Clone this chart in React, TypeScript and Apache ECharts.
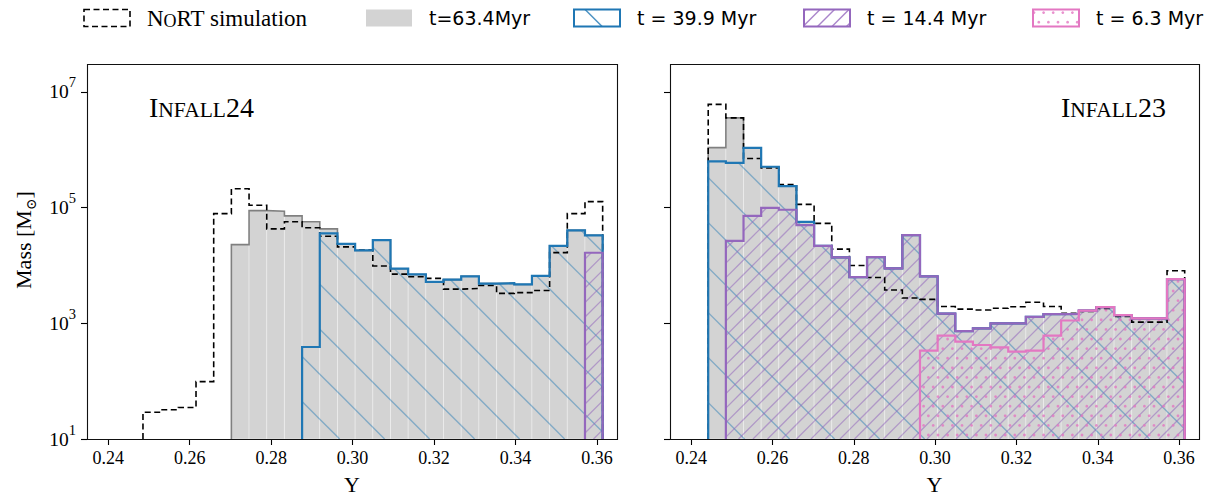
import React, { useEffect, useRef } from "react";
import * as echarts from "echarts";

// ---------------- data ----------------
const BIN_EDGE0 = 0.2442; // first bin edge in helium mass fraction Y
const BIN_WIDTH = 0.00434;
const X_MIN = 0.2348;
const X_MAX = 0.3649;
const X_TICKS = [0.24, 0.26, 0.28, 0.3, 0.32, 0.34, 0.36];
const Y_EXP_MIN = 1; // 10^1
const Y_EXP_MAX = 7.484;
const Y_TICK_EXPONENTS = [1, 3, 5, 7];

// INFALL24 (left panel) — masses in Msun, first bin index in the shared bin grid
const L_NORT_START = 1;
const L_NORT = [29, 32, 35, 98, 7.9e4, 2.12e5, 1.1e5, 4.3e4, 5.7e4, 4.5e4, 3.2e4, 2.1e4, 1.85e4, 9.8e3, 7.1e3, 6.4e3, 6.0e3, 3.9e3, 4.0e3, 4.5e3, 3.3e3, 3.4e3, 3.7e3, 1.67e4, 7.9e4, 1.27e5];
const L_T634_START = 6;
const L_T634 = [2.3e4, 8.9e4, 8.7e4, 7.2e4, 5.7e4, 4.3e4, 2.37e4, 1.82e4, 2.75e4, 8.8e3, 7.0e3, 5.2e3, 5.7e3, 6.5e3, 4.85e3, 4.95e3, 4.7e3, 6.6e3, 2.18e4, 4.05e4, 3.33e4];
const L_T399_START = 10;
const L_T399 = [390, 3.6e4, 2.37e4, 1.82e4, 2.75e4, 8.8e3, 7.0e3, 5.2e3, 5.7e3, 6.5e3, 4.85e3, 4.95e3, 4.7e3, 6.6e3, 2.18e4, 4.05e4, 3.33e4];
const L_T144_START = 26;
const L_T144 = [1.66e4];

// INFALL23 (right panel)
const R_NORT_START = 0;
const R_NORT = [6.1e6, 3.57e6, 7.1e5, 4.86e5, 2.52e5, 1.14e5, 5.35e4, 1.92e4, 1.0e4, 6.2e3, 3.77e3, 2.74e3, 2.6e3, 1.95e3, 1.76e3, 1.7e3, 1.82e3, 1.94e3, 2.32e3, 1.96e3, 1.49e3, 1.6e3, 1.8e3, 1.32e3, 1.05e3, 1.05e3, 8.1e3];
const R_T634_START = 0;
const R_T634 = [1.09e6, 3.57e6, 1.08e6, 5.1e5, 2.36e5, 5.7e4, 2.18e4, 1.38e4, 6.3e3, 1.4e4, 8.9e3, 3.36e4, 6.5e3, 1.47e3, 731, 817, 998, 998, 1.29e3, 1.44e3, 1.46e3, 1.66e3, 1.91e3, 1.39e3, 1.22e3, 1.22e3, 5.8e3];
const R_T399_START = 0;
const R_T399 = [6.3e5, 5.93e5, 1.08e6, 5.1e5, 2.36e5, 5.7e4, 2.18e4, 1.38e4, 6.3e3, 1.4e4, 8.9e3, 3.36e4, 6.5e3, 1.47e3, 731, 817, 998, 998, 1.29e3, 1.44e3, 1.46e3, 1.66e3, 1.91e3, 1.39e3, 1.22e3, 1.22e3, 5.8e3];
const R_T144_START = 1;
const R_T144 = [2.66e4, 7.2e4, 9.95e4, 9.2e4, 5.0e4, 2.18e4, 1.38e4, 6.3e3, 1.4e4, 8.9e3, 3.36e4, 6.5e3, 1.47e3, 731, 817, 998, 998, 1.29e3, 1.44e3, 1.46e3, 1.66e3, 1.91e3, 1.39e3, 1.22e3, 1.22e3, 5.8e3];
const R_T63_START = 12;
const R_T63 = [337, 611, 481, 422, 384, 324, 337, 611, 1.12e3, 1.66e3, 1.91e3, 1.39e3, 1.22e3, 1.22e3, 5.8e3];

const PANEL_LABELS = ["INFALL24", "INFALL23"];
const LEGEND_LABELS = ["NoRT simulation", "t=63.4Myr", "t = 39.9 Myr", "t = 14.4 Myr", "t = 6.3 Myr"];
const X_TITLE = "Y";

// ---------------- style ----------------
const SERIF = '"Liberation Serif", "DejaVu Serif", serif';
const SANS = '"DejaVu Sans", sans-serif';
const C_BLUE = "#1f77b4";
const C_PURPLE = "#9467bd";
const C_PINK = "#e377c2";
const C_GRAY_FILL = "#d3d3d3";
const C_GRAY_LINE = "#808080";
const BLUE_HATCH = { dir: "back", spacing: 45, phase: -99.4, color: "rgba(31,119,180,0.45)", lw: 1.4 };
const PURPLE_HATCH = { dir: "fwd", spacing: 14.5, phase: 3, color: "rgba(148,103,189,0.55)", lw: 1.3 };
const PINK_DOTS = { sx: 9.6, sy: 9.6, px: 2, py: 3, r: 1.4, color: "rgba(227,119,194,0.8)" };

const GRIDS = [
  { left: 87, top: 64, width: 530, height: 375 },
  { left: 670, top: 64, width: 529, height: 375 },
];

// ---------------- helpers ----------------
const edge = (k: number) => BIN_EDGE0 + k * BIN_WIDTH;
const binData = (start: number, vals: number[]) =>
  vals.map((v, i) => [edge(start + i), edge(start + i + 1), Math.log10(v)]);
const stairData = (start: number, vals: number[]) => {
  const pts: number[][] = [[edge(start), Y_EXP_MIN]];
  vals.forEach((v, i) => {
    const y = Math.log10(v);
    pts.push([edge(start + i), y], [edge(start + i + 1), y]);
  });
  pts.push([edge(start + vals.length), Y_EXP_MIN]);
  return pts;
};

type R = { x: number; y: number; w: number; h: number };

function hatchSegments(r: R, h: any) {
  const segs: number[][] = [];
  if (h.dir === "back") {
    // lines x - y = c
    const cMin = r.x - (r.y + r.h);
    const cMax = r.x + r.w - r.y;
    const n0 = Math.ceil((cMin - h.phase) / h.spacing);
    for (let c = h.phase + n0 * h.spacing; c <= cMax; c += h.spacing) {
      const xa = Math.max(r.x, r.y + c);
      const xb = Math.min(r.x + r.w, r.y + r.h + c);
      if (xb > xa) segs.push([xa, xa - c, xb, xb - c]);
    }
  } else {
    // lines x + y = c
    const cMin = r.x + r.y;
    const cMax = r.x + r.w + r.y + r.h;
    const n0 = Math.ceil((cMin - h.phase) / h.spacing);
    for (let c = h.phase + n0 * h.spacing; c <= cMax; c += h.spacing) {
      const xa = Math.max(r.x, c - r.y - r.h);
      const xb = Math.min(r.x + r.w, c - r.y);
      if (xb > xa) segs.push([xa, c - xa, xb, c - xb]);
    }
  }
  return segs;
}

function dotCenters(r: R, d: any) {
  const pts: number[][] = [];
  const j0 = Math.ceil((r.y - d.py) / d.sy);
  for (let j = j0; d.py + j * d.sy <= r.y + r.h; j++) {
    const cy = d.py + j * d.sy;
    const off = (((j % 2) + 2) % 2) * d.sx / 2;
    const i0 = Math.ceil((r.x - d.px - off) / d.sx);
    for (let i = i0; d.px + off + i * d.sx <= r.x + r.w; i++) {
      pts.push([d.px + off + i * d.sx, cy]);
    }
  }
  return pts;
}

function rectOf(api: any): R {
  const a = api.coord([api.value(0), api.value(2)]);
  const b = api.coord([api.value(1), Y_EXP_MIN]);
  return { x: a[0], y: a[1], w: b[0] - a[0], h: b[1] - a[1] };
}

const hatchChildren = (r: R, h: any) =>
  hatchSegments(r, h).map((s) => ({
    type: "line",
    shape: { x1: s[0], y1: s[1], x2: s[2], y2: s[3] },
    style: { stroke: h.color, lineWidth: h.lw },
  }));

const dotChildren = (r: R, d: any) =>
  dotCenters(r, d).map((p) => ({
    type: "circle",
    shape: { cx: p[0], cy: p[1], r: d.r },
    style: { fill: d.color },
  }));

function customSeries(gi: number, data: number[][], kind: string, z: number) {
  return {
    type: "custom",
    xAxisIndex: gi,
    yAxisIndex: gi,
    data,
    encode: { x: [0, 1], y: 2 },
    z,
    silent: true,
    clip: true,
    renderItem: (params: any, api: any) => {
      const r = rectOf(api);
      if (kind === "fill") {
        return {
          type: "rect",
          shape: { x: r.x, y: r.y, width: r.w, height: r.h },
          style: { fill: C_GRAY_FILL, stroke: "rgba(255,255,255,0.4)", lineWidth: 0.8 },
        };
      }
      if (kind === "blue") return { type: "group", children: hatchChildren(r, BLUE_HATCH) };
      if (kind === "purple") return { type: "group", children: hatchChildren(r, PURPLE_HATCH) };
      return { type: "group", children: dotChildren(r, PINK_DOTS) };
    },
  };
}

function lineSeries(gi: number, data: number[][], color: string, width: number, z: number, dash?: any) {
  return {
    type: "line",
    xAxisIndex: gi,
    yAxisIndex: gi,
    data,
    z,
    silent: true,
    symbol: "none",
    showSymbol: false,
    clip: true,
    lineStyle: { color, width, type: dash || "solid", cap: "butt", join: "miter" },
  };
}

function panelSeries(gi: number, p: any) {
  const s: any[] = [];
  s.push(customSeries(gi, binData(p.t634s, p.t634), "fill", 1));
  s.push(lineSeries(gi, stairData(p.t634s, p.t634), C_GRAY_LINE, 1.6, 2));
  s.push(customSeries(gi, binData(p.t399s, p.t399), "blue", 3));
  s.push(customSeries(gi, binData(p.t144s, p.t144), "purple", 4));
  if (p.t63) s.push(customSeries(gi, binData(p.t63s, p.t63), "pink", 5));
  s.push(lineSeries(gi, stairData(p.norts, p.nort), "#000", 1.6, 6, [6, 3.5]));
  s.push(lineSeries(gi, stairData(p.t399s, p.t399), C_BLUE, 2.2, 7));
  s.push(lineSeries(gi, stairData(p.t144s, p.t144), C_PURPLE, 2.2, 8));
  if (p.t63) s.push(lineSeries(gi, stairData(p.t63s, p.t63), C_PINK, 2.2, 9));
  return s;
}

function legendGraphics() {
  const xs = [84, 366, 574, 804, 1033];
  const y = 9.5, w = 46, h = 17;
  const els: any[] = [];
  // NoRT
  els.push({ type: "rect", shape: { x: xs[0], y, width: w, height: h }, style: { fill: "none", stroke: "#000", lineWidth: 1.6, lineDash: [6, 3.5] } });
  // gray
  els.push({ type: "rect", shape: { x: xs[1], y, width: w, height: h }, style: { fill: C_GRAY_FILL } });
  // blue
  const rb = { x: xs[2], y, w, h };
  hatchSegments(rb, BLUE_HATCH).forEach((s) => els.push({ type: "line", shape: { x1: s[0], y1: s[1], x2: s[2], y2: s[3] }, style: { stroke: "rgba(31,119,180,0.8)", lineWidth: 1.5 } }));
  els.push({ type: "rect", shape: { x: xs[2], y, width: w, height: h }, style: { fill: "none", stroke: C_BLUE, lineWidth: 2 } });
  // purple
  const rp = { x: xs[3], y, w, h };
  hatchSegments(rp, PURPLE_HATCH).forEach((s) => els.push({ type: "line", shape: { x1: s[0], y1: s[1], x2: s[2], y2: s[3] }, style: { stroke: "rgba(148,103,189,0.8)", lineWidth: 1.4 } }));
  els.push({ type: "rect", shape: { x: xs[3], y, width: w, height: h }, style: { fill: "none", stroke: C_PURPLE, lineWidth: 2 } });
  // pink
  const rk = { x: xs[4], y, w, h };
  dotCenters(rk, PINK_DOTS).forEach((p) => els.push({ type: "circle", shape: { cx: p[0], cy: p[1], r: PINK_DOTS.r }, style: { fill: PINK_DOTS.color } }));
  els.push({ type: "rect", shape: { x: xs[4], y, width: w, height: h }, style: { fill: "none", stroke: C_PINK, lineWidth: 2 } });

  // texts
  const ty = y + h / 2;
  els.push({
    type: "text", x: xs[0] + 63, y: ty,
    style: {
      text: "{a|N}{b|O}{a|RT simulation}",
      rich: { a: { fontFamily: SERIF, fontSize: 23, fill: "#000" }, b: { fontFamily: SERIF, fontSize: 18, fill: "#000", verticalAlign: "bottom" } },
      align: "left", verticalAlign: "middle",
    },
  });
  for (let i = 1; i < 5; i++) {
    els.push({ type: "text", x: xs[i] + 63, y: ty, style: { text: LEGEND_LABELS[i], fontFamily: SANS, fontSize: 19, fill: "#000", align: "left", verticalAlign: "middle" } });
  }
  return els;
}

function smallCaps(label: string) {
  // "INFALL24" -> big I, small NFALL, big digits
  const m = label.match(/^([A-Z])([A-Z]+)(\d+)$/);
  if (!m) return label;
  return `{a|${m[1]}}{b|${m[2]}}{a|${m[3]}}`;
}

export default function App() {
  const ref = useRef<HTMLDivElement>(null);
  useEffect(() => {
    if (!ref.current) return;
    const chart = echarts.init(ref.current, undefined, { renderer: "svg" });

    const xAxes = GRIDS.map((_, gi) => ({
      type: "value",
      gridIndex: gi,
      min: X_MIN,
      max: X_MAX,
      splitLine: { show: false },
      axisLine: { show: false },
      axisTick: { show: true, customValues: X_TICKS, length: 6, lineStyle: { color: "#000", width: 1.1 } },
      axisLabel: {
        customValues: X_TICKS,
        formatter: (v: number) => v.toFixed(2),
        fontFamily: SERIF,
        fontSize: 18,
        color: "#000",
        margin: 10,
      },
    }));
    const yAxes = GRIDS.map((_, gi) => ({
      type: "value",
      gridIndex: gi,
      min: Y_EXP_MIN,
      max: Y_EXP_MAX,
      splitLine: { show: false },
      axisLine: { show: false },
      axisTick: { show: true, customValues: Y_TICK_EXPONENTS, length: 6, lineStyle: { color: "#000", width: 1.1 } },
      axisLabel: {
        show: gi === 0,
        customValues: Y_TICK_EXPONENTS,
        formatter: (v: number) => `{b|10}{s|${Math.round(v)}}`,
        margin: 11,
        rich: {
          b: { fontFamily: SERIF, fontSize: 19.5, color: "#000", lineHeight: 34 },
          s: { fontFamily: SERIF, fontSize: 14.5, color: "#000", lineHeight: 14, verticalAlign: "top" },
        },
      },
    }));

    const panels = [
      { norts: L_NORT_START, nort: L_NORT, t634s: L_T634_START, t634: L_T634, t399s: L_T399_START, t399: L_T399, t144s: L_T144_START, t144: L_T144 },
      { norts: R_NORT_START, nort: R_NORT, t634s: R_T634_START, t634: R_T634, t399s: R_T399_START, t399: R_T399, t144s: R_T144_START, t144: R_T144, t63s: R_T63_START, t63: R_T63 },
    ];
    const series = panels.flatMap((p, gi) => panelSeries(gi, p));

    const graphics: any[] = [];
    GRIDS.forEach((g, gi) => {
      graphics.push({
        type: "rect", z: 100, silent: true,
        shape: { x: g.left + 0.5, y: g.top + 0.5, width: g.width, height: g.height },
        style: { fill: "none", stroke: "#111", lineWidth: 1.1 },
      });
      graphics.push({
        type: "text", z: 100, x: g.left + g.width / 2, y: 484,
        style: { text: X_TITLE, fontFamily: SERIF, fontSize: 22, lineHeight: 18, fill: "#000", align: "center", verticalAlign: "middle" },
      });
    });
    const caps = { a: { fontFamily: SERIF, fontSize: 28, fill: "#000" }, b: { fontFamily: SERIF, fontSize: 21.5, fill: "#000", verticalAlign: "bottom" } };
    graphics.push({ type: "text", z: 100, x: 149, y: 107, style: { text: smallCaps(PANEL_LABELS[0]), rich: caps, align: "left", verticalAlign: "middle" } });
    graphics.push({ type: "text", z: 100, x: 1166, y: 107, style: { text: smallCaps(PANEL_LABELS[1]), rich: caps, align: "right", verticalAlign: "middle" } });
    graphics.push({
      type: "text", z: 100, x: 23, y: 240, rotation: Math.PI / 2,
      style: {
        text: "{n|Mass [M}{s|⊙}{n|]}",
        rich: {
          n: { fontFamily: SERIF, fontSize: 22, fill: "#000", lineHeight: 30 },
          s: { fontFamily: SERIF, fontSize: 14, fill: "#000", lineHeight: 14, verticalAlign: "bottom" },
        },
        align: "center", verticalAlign: "middle",
      },
    });
    legendGraphics().forEach((e) => graphics.push({ ...e, z: 100, silent: true }));

    chart.setOption({
      animation: false,
      backgroundColor: "#fff",
      grid: GRIDS.map((g) => ({ ...g, show: false, containLabel: false })),
      xAxis: xAxes,
      yAxis: yAxes,
      series,
      graphic: { elements: graphics },
    });
    return () => chart.dispose();
  }, []);

  return <div ref={ref} style={{ position: "fixed", left: 0, top: 0, width: 1210, height: 495 }} />;
}
